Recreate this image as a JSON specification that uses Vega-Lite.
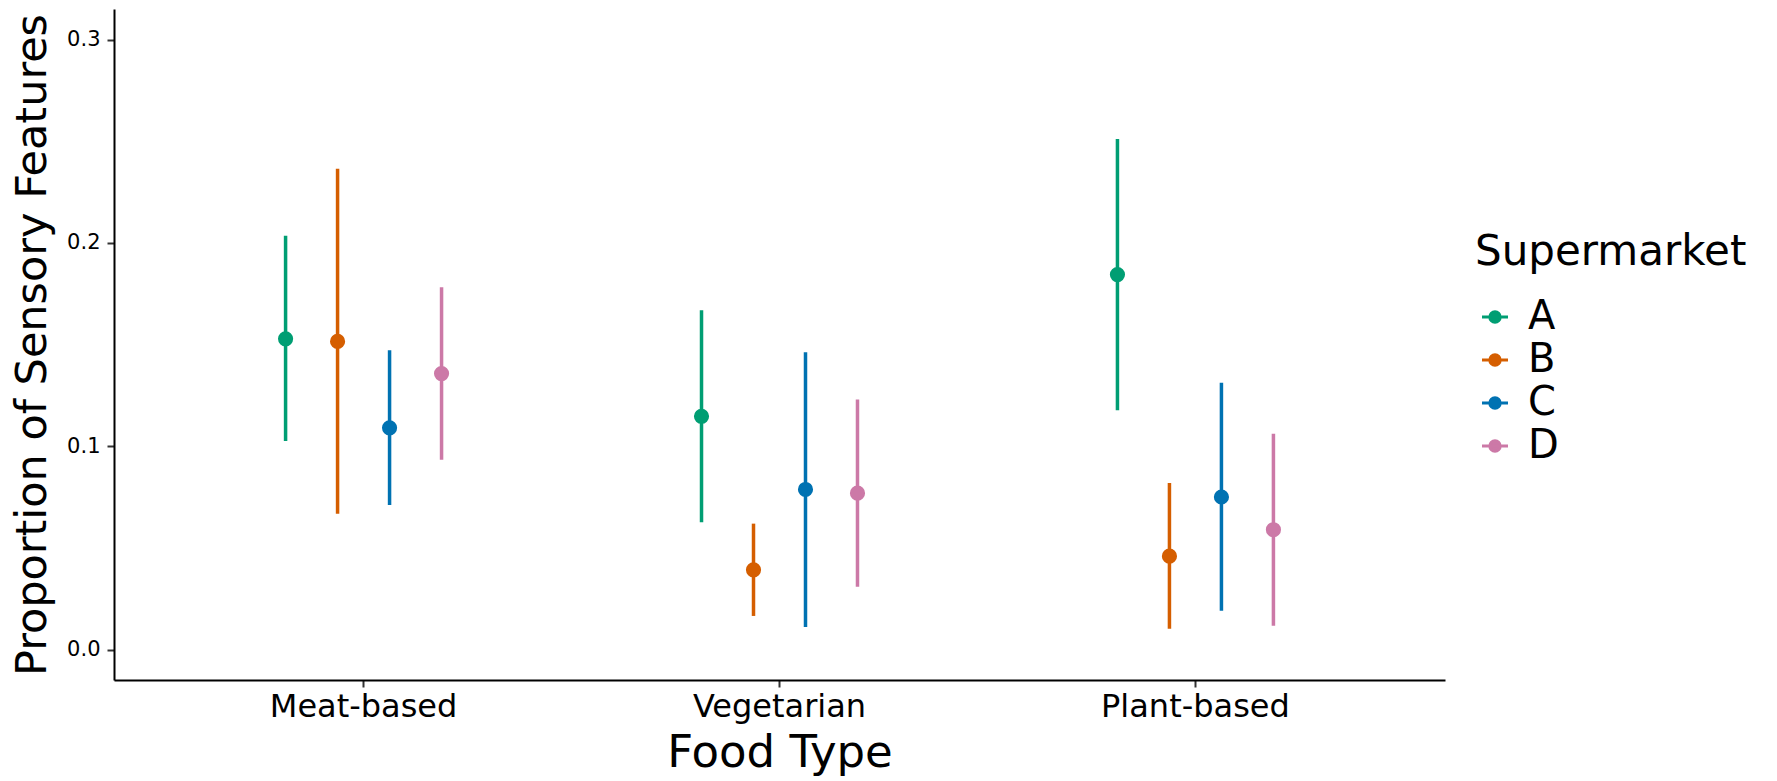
{
  "$schema": "https://vega.github.io/schema/vega-lite/v6.json",
  "width": 1331,
  "height": 671,
  "autosize": {"type": "none"},
  "padding": {"left": 114, "top": 9, "right": 332, "bottom": 101},
  "background": "white",
  "config": {"view": {"stroke": null}, "font": "DejaVu Sans"},
  "data": {"values": [
    {"food": "Meat-based", "supermarket": "A", "mean": 0.1528, "lower": 0.1026, "upper": 0.2035},
    {"food": "Meat-based", "supermarket": "B", "mean": 0.1515, "lower": 0.0668, "upper": 0.2364},
    {"food": "Meat-based", "supermarket": "C", "mean": 0.1090, "lower": 0.0711, "upper": 0.1472},
    {"food": "Meat-based", "supermarket": "D", "mean": 0.1357, "lower": 0.0933, "upper": 0.1782},
    {"food": "Vegetarian", "supermarket": "A", "mean": 0.1147, "lower": 0.0626, "upper": 0.1668},
    {"food": "Vegetarian", "supermarket": "B", "mean": 0.0392, "lower": 0.0165, "upper": 0.0619},
    {"food": "Vegetarian", "supermarket": "C", "mean": 0.0787, "lower": 0.0111, "upper": 0.1462},
    {"food": "Vegetarian", "supermarket": "D", "mean": 0.0769, "lower": 0.0308, "upper": 0.1230},
    {"food": "Plant-based", "supermarket": "A", "mean": 0.1844, "lower": 0.1177, "upper": 0.2511},
    {"food": "Plant-based", "supermarket": "B", "mean": 0.0459, "lower": 0.0102, "upper": 0.0819},
    {"food": "Plant-based", "supermarket": "C", "mean": 0.0750, "lower": 0.0191, "upper": 0.1312},
    {"food": "Plant-based", "supermarket": "D", "mean": 0.0589, "lower": 0.0117, "upper": 0.1061}
  ]},
  "encoding": {
    "x": {
      "field": "food", "type": "nominal",
      "sort": ["Meat-based", "Vegetarian", "Plant-based"],
      "scale": {"paddingInner": 0.5, "paddingOuter": 0.35},
      "axis": {
        "title": "Food Type", "titleFontSize": 45, "titleFontWeight": "normal", "titleColor": "black",
        "titleBaseline": "alphabetic", "titleY": 86,
        "labelAngle": 0, "labelFontSize": 32, "labelColor": "black", "labelBaseline": "alphabetic", "labelPadding": 29,
        "labelLimit": 0,
        "tickSize": 7, "tickWidth": 2, "tickColor": "#333333",
        "domainColor": "black", "domainWidth": 2, "grid": false
      }
    },
    "xOffset": {
      "field": "supermarket", "type": "nominal", "sort": ["A", "B", "C", "D"],
      "scale": {"paddingInner": 0, "paddingOuter": 0}
    },
    "color": {
      "field": "supermarket", "type": "nominal",
      "scale": {"domain": ["A", "B", "C", "D"], "range": ["#009E73", "#D55E00", "#0072B2", "#CC79A7"]},
      "legend": {
        "title": "Supermarket", "orient": "none", "legendX": 1361, "legendY": 223, "padding": 0,
        "titleFontSize": 42, "titleFontWeight": "normal", "titleColor": "black", "titlePadding": 23,
        "titleLimit": 0, "labelLimit": 0,
        "labelFontSize": 40, "labelColor": "black", "labelOffset": 13,
        "symbolType": "M-1,0L1,0M0.4,0A0.4,0.4,0,1,1,-0.4,0A0.4,0.4,0,1,1,0.4,0Z",
        "symbolSize": 676, "symbolStrokeWidth": 3, "rowPadding": 3,
        "encode": {"symbols": {"update": {
          "fill": {"scale": "color", "field": "value"},
          "stroke": {"scale": "color", "field": "value"},
          "opacity": {"value": 1}
        }}}
      }
    }
  },
  "layer": [
    {
      "mark": {"type": "rule", "strokeWidth": 3.5},
      "encoding": {
        "y": {
          "field": "lower", "type": "quantitative",
          "title": "Proportion of Sensory Features",
          "scale": {"domain": [-0.015, 0.315], "nice": false, "zero": false},
          "axis": {
            "values": [0, 0.1, 0.2, 0.3], "format": ".1f", "grid": false,
            "titleFontSize": 43, "titleFontWeight": "normal", "titleColor": "black",
            "titleBaseline": "alphabetic", "titleX": -69, "titleY": 335.5, "titleAngle": -90,
            "labelFontSize": 21, "labelColor": "black", "labelPadding": 7,
            "tickSize": 7, "tickWidth": 2, "tickColor": "#333333",
            "domainColor": "black", "domainWidth": 2
          }
        },
        "y2": {"field": "upper"}
      }
    },
    {
      "mark": {"type": "point", "filled": true, "opacity": 1, "size": 230},
      "encoding": {
        "y": {"field": "mean", "type": "quantitative", "title": "Proportion of Sensory Features"}
      }
    }
  ]
}
